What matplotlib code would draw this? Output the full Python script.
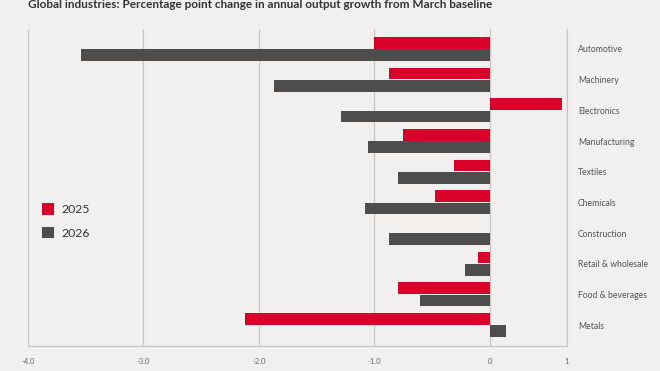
import numpy as np
import matplotlib
matplotlib.use("Agg")
import matplotlib.pyplot as plt
from matplotlib.patches import Patch

# data
industries = ["Automotive", "Machinery", "Electronics", "Manufacturing", "Textiles",
              "Chemicals", "Construction", "Retail & wholesale", "Food & beverages", "Metals"]
values_2025 = [-1.00, -0.87, 0.62, -0.75, -0.31, -0.48, 0.0, -0.10, -0.80, -2.12]
values_2026 = [-3.54, -1.87, -1.29, -1.06, -0.80, -1.08, -0.87, -0.22, -0.61, 0.14]
series_labels = ["2025", "2026"]
tick_labels = ["-4.0", "-3.0", "-2.0", "-1.0", "0", "1"]
title = "Global industries: Percentage point change in annual output growth from March baseline"

bg = "#f2f0ee"
red = "#d9002a"
gray = "#4d4d4d"
grid = "#c9c7c5"

plt.rcParams["font.family"] = ["Lato", "DejaVu Sans"]

fig = plt.figure(figsize=(6.6, 3.71), dpi=100, facecolor=bg)
ax = fig.add_axes([28 / 660, 25 / 371, 539 / 660, 317 / 371])
ax.set_facecolor(bg)

y = np.arange(len(industries))
h = 0.38
ax.barh(y - 0.2, values_2025, height=h, color=red, zorder=3)
ax.barh(y + 0.2, values_2026, height=h, color=gray, zorder=3)

xmax = 0.667
ax.set_xlim(-4, xmax)
ax.set_ylim(len(industries) - 0.32, -0.65)

ax.set_xticks([-4, -3, -2, -1, 0, xmax])
ax.set_xticklabels(tick_labels, fontsize=5.5, color="#666666")
ax.tick_params(axis="x", length=0, pad=9)
ax.grid(axis="x", color=grid, linewidth=0.9, zorder=0)

ax.set_yticks(y)
ax.set_yticklabels(industries, fontsize=6.2, color="#555555")
ax.yaxis.tick_right()
ax.tick_params(axis="y", length=0, pad=8)

for s in ["top", "left"]:
    ax.spines[s].set_visible(False)
ax.spines["bottom"].set_color(grid)
ax.spines["right"].set_color(grid)
ax.spines["bottom"].set_linewidth(0.9)
ax.spines["right"].set_linewidth(0.9)

handles = [Patch(facecolor=red, label=series_labels[0]),
           Patch(facecolor=gray, label=series_labels[1])]
ax.legend(handles=handles, loc="center left", bbox_to_anchor=(0.005, 0.395),
          frameon=False, fontsize=8.8, handlelength=1.0, handleheight=1.1,
          handletextpad=0.6, labelspacing=0.95, labelcolor="#333333")

fig.text(28 / 660, 1.0 - 5 / 371, title, fontsize=8.5, fontweight="bold",
         color="#333333", ha="left", va="center")

fig.savefig("out.png", dpi=100, facecolor=bg)
